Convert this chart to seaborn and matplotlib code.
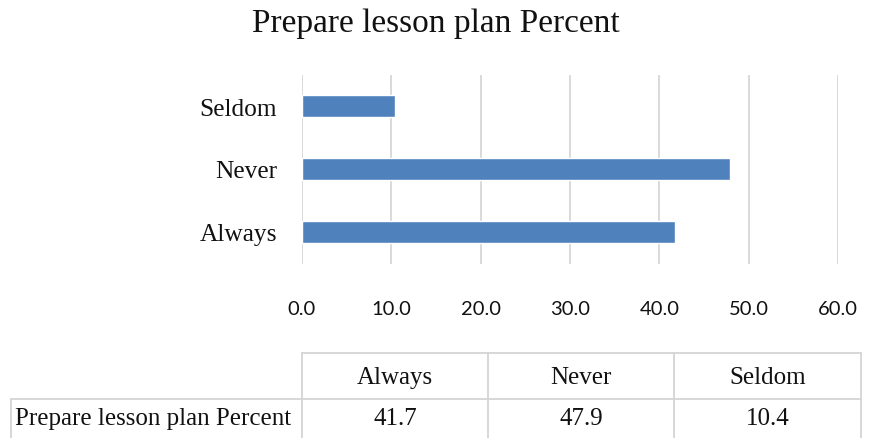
import matplotlib
matplotlib.use("Agg")
import matplotlib.pyplot as plt
from matplotlib.lines import Line2D
import seaborn as sns
import pandas as pd

categories = ["Always", "Never", "Seldom"]
percent = [41.7, 47.9, 10.4]
series_name = "Prepare lesson plan Percent"
title = "Prepare lesson plan Percent"
x_ticks = [0, 10, 20, 30, 40, 50, 60]

df = pd.DataFrame({"category": categories, "percent": percent})

sns.set_theme(style="white")
plt.rcParams["font.family"] = ["Liberation Serif", "DejaVu Serif"]

W, H = 869, 439
fig = plt.figure(figsize=(W / 100, H / 100), dpi=100)
ax = fig.add_axes([302 / W, 1 - 264.5 / H, (838 - 302) / W, (264.5 - 75.5) / H])

sns.barplot(data=df, x="percent", y="category", order=categories[::-1],
            color="#4F81BD", saturation=1, width=0.35, orient="h", ax=ax)

ax.set_xlim(0, 60)
ax.set_ylim(2.5, -0.5)
ax.set_xticks(x_ticks)
ax.set_xticklabels([f"{v:.1f}" for v in x_ticks], family=["Lato", "DejaVu Sans"],
                   fontsize=14.5, color="#111111")
ax.tick_params(axis="x", length=0, pad=26)
ax.tick_params(axis="y", length=0, pad=18, labelsize=18.3, labelcolor="#111111")
ax.set_xlabel("")
ax.set_ylabel("")
ax.grid(axis="x", color="#D9D9D9", linewidth=1.4)
ax.set_axisbelow(True)
for s in ax.spines.values():
    s.set_visible(False)

fig.text(436 / W, 1 - 24 / H, title, ha="center", va="center", fontsize=24,
         color="#111111")

# data table
lc = "#D4D4D4"
cols = [11, 302, 488, 674, 861]
y_top, y_mid, y_bot = 354, 400, 445

def hline(y, x0, x1):
    fig.add_artist(Line2D([x0 / W, x1 / W], [1 - y / H, 1 - y / H],
                          transform=fig.transFigure, color=lc, lw=1.3))

def vline(x, y0, y1):
    fig.add_artist(Line2D([x / W, x / W], [1 - y0 / H, 1 - y1 / H],
                          transform=fig.transFigure, color=lc, lw=1.3))

hline(y_top, cols[1], cols[4])
hline(y_mid, cols[0], cols[4])
vline(cols[0], y_mid, y_bot)
for x in cols[1:]:
    vline(x, y_top, y_bot)

for i, (c, v) in enumerate(zip(categories, percent)):
    xc = (cols[i + 1] + cols[i + 2]) / 2
    fig.text(xc / W, 1 - 378 / H, c, ha="center", va="center", fontsize=18,
             color="#111111")
    fig.text(xc / W, 1 - 419 / H, f"{v:.1f}", ha="center", va="center",
             fontsize=18, color="#111111")
fig.text(15 / W, 1 - 419 / H, series_name, ha="left", va="center",
         fontsize=18, color="#111111")

fig.savefig("out.png", dpi=100)
